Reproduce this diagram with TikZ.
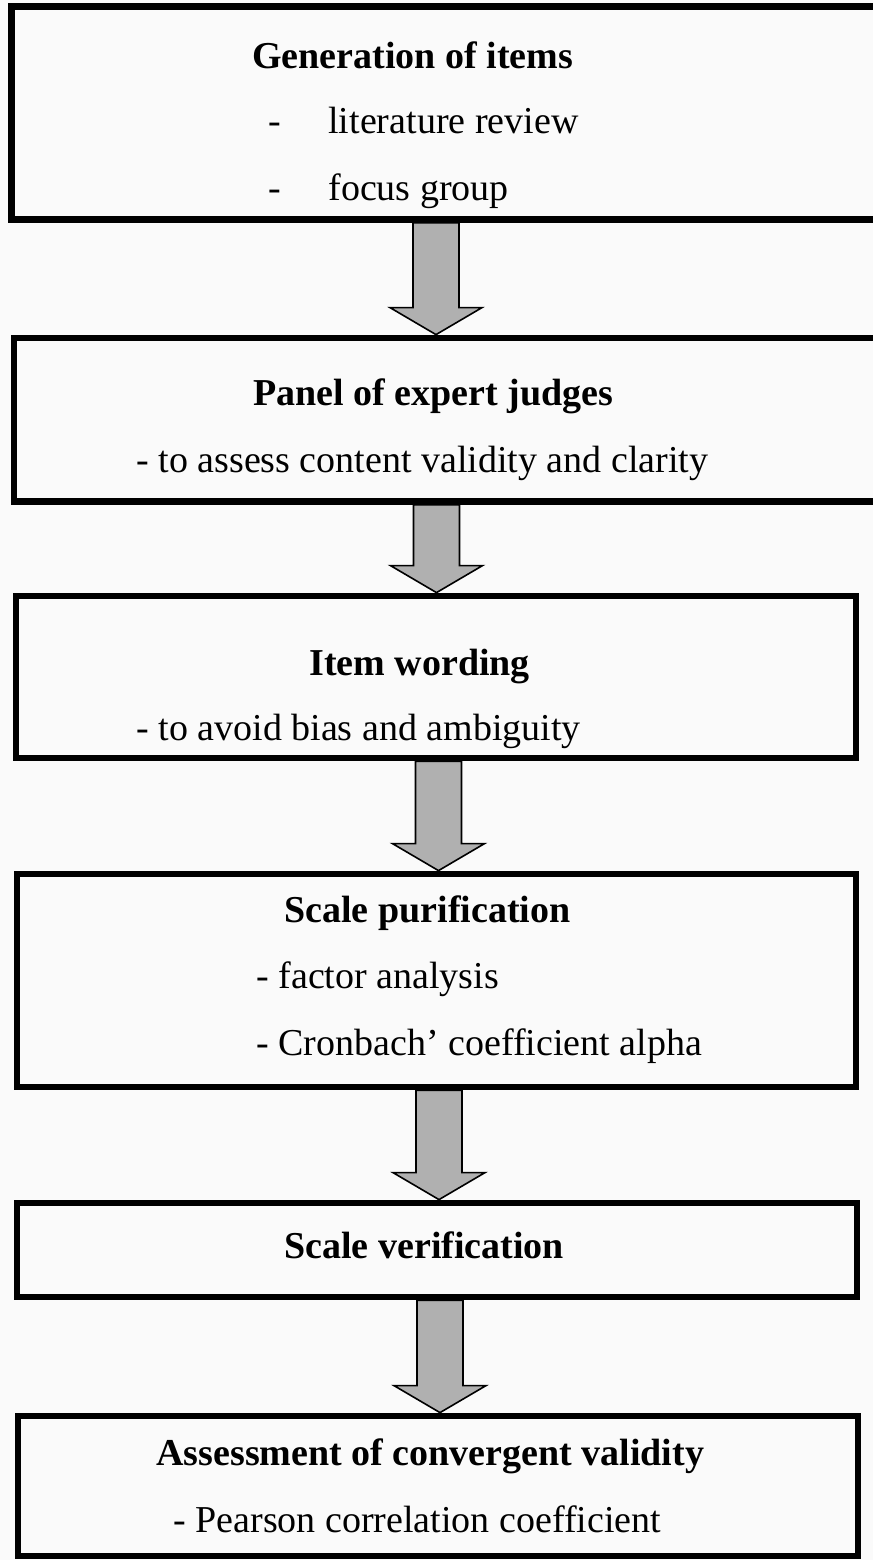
\documentclass[tikz,border=0pt]{standalone}
\usepackage{fontspec}
\setmainfont{Liberation Serif}
\usetikzlibrary{calc,fit}

% block arrow from the bottom of one stage box to the top of the next;
% #3 is the horizontal position of the arrow axis
\newcommand{\stagearrow}[3]{%
  \draw[blockarrow]
    ($(#1.south -| o)+({#3-23},0)$) --
    ($(#2.north -| o)+({#3-23},-27)$) --
    ($(#2.north -| o)+({#3-46},-27)$) --
    ($(#2.north -| o)+(#3,0)$) --
    ($(#2.north -| o)+({#3+46},-27)$) --
    ($(#2.north -| o)+({#3+23},-27)$) --
    ($(#1.south -| o)+({#3+23},0)$) -- cycle;}

\begin{document}
\begin{tikzpicture}[x=0.5pt,y=-0.5pt,
  stagebox/.style={draw=black, line width=3.4pt, inner sep=0pt, rectangle},
  heading/.style={anchor=base west, inner sep=0pt, font=\fontsize{19}{23}\selectfont\bfseries},
  detail/.style={anchor=base west, inner sep=0pt, font=\fontsize{19}{23}\selectfont},
  blockarrow/.style={draw=black, line width=0.8pt, fill=gray!62, line join=miter}]

\useasboundingbox (0,0) rectangle (873,1560);
\fill[gray!4] (0,0) rectangle (873,1560);
\clip (0,0) rectangle (873,1560);
\coordinate (o) at (0,0);

% stage boxes
\node[stagebox, fit={(11.5,6.5) (895,219.5)}] (gen) {};
\node[stagebox, fit={(14,338) (895,501.5)}] (panel) {};
\node[stagebox, fit={(16,596) (856,758)}] (wording) {};
\node[stagebox, fit={(17,874) (856,1087)}] (purif) {};
\node[stagebox, fit={(17,1203) (857,1297)}] (verif) {};
\node[stagebox, fit={(18,1416) (858,1556)}] (conv) {};

% connecting arrows
\stagearrow{gen}{panel}{436}
\stagearrow{panel}{wording}{436.5}
\stagearrow{wording}{purif}{438.5}
\stagearrow{purif}{verif}{439}
\stagearrow{verif}{conv}{440}

% texts
\node[heading] (genT) at (252,68) {Generation of items};
\node[detail] (genA) at (268,133) {\makebox[30pt][l]{-}literature review};
\node[detail] (genB) at (268,200) {\makebox[30pt][l]{-}focus group};

\node[heading] (panelT) at (253,405) {Panel of expert judges};
\node[detail] (panelA) at (136,472) {- to assess content validity and clarity};

\node[heading] (wordingT) at (309,675) {Item wording};
\node[detail] (wordingA) at (136,740) {- to avoid bias and ambiguity};

\node[heading] (purifT) at (284,922) {Scale purification};
\node[detail] (purifA) at (256,988) {- factor analysis};
\node[detail] (purifB) at (256,1055) {- Cronbach' coefficient alpha};

\node[heading] (verifT) at (284,1258) {Scale verification};

\node[heading] (convT) at (156,1465) {Assessment of convergent validity};
\node[detail] (convA) at (173,1532) {- Pearson correlation coefficient};
\end{tikzpicture}
\end{document}
